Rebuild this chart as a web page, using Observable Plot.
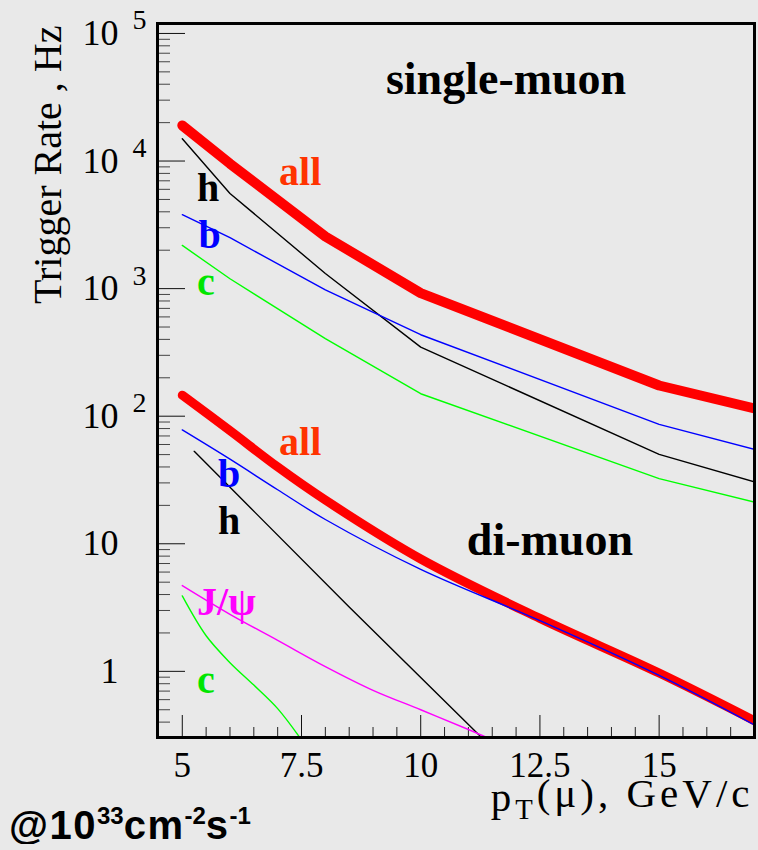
<!DOCTYPE html>
<html><head><meta charset="utf-8">
<script src="https://cdn.jsdelivr.net/npm/d3@7"></script>
<script src="https://cdn.jsdelivr.net/npm/@observablehq/plot@0.6"></script>
<style>
html,body{margin:0;padding:0;background:#e9e9e9;}
#chart{width:758px;}
#caption{font-family:"Liberation Sans",Arial,sans-serif;font-weight:bold;font-size:40px;line-height:38px;letter-spacing:1.5px;margin:-16px 0 0 9px;position:relative;white-space:nowrap;}
#caption sup{font-size:0.6em;position:relative;top:-0.62em;vertical-align:baseline;line-height:0;letter-spacing:0;}
</style></head><body>
<div id="chart"></div>
<div id="caption">@10<sup>33</sup>cm<sup>-2</sup>s<sup>-1</sup></div>
<script>
// ---- single-muon rates (Hz) vs pT (GeV/c)
const pt = [5, 6, 8, 10, 15, 17];
const singleAll = [19000, 9530, 2565, 922, 174, 115];
const singleH = [14960, 5570, 1315, 348, 50.2, 30.5];
const singleB = [3795, 2505, 977, 435, 86.3, 55];
const singleC = [2180, 1195, 405, 150, 32.4, 21.2];

// ---- di-muon rates (Hz)
const diPt = [5, 6, 7, 8, 10, 12.5, 15, 17];
const diAll = [146, 77, 40, 22, 7.6, 2.6, 0.97, 0.41];
const diB = [78, 46, 26.5, 15.5, 6.3, 2.5, 0.93, 0.38];
const diHPt = [5.25, 8.5, 11.25];
const diH = [53, 3.2, 0.31];
const diJpsiPt = [5, 6, 7, 8, 9, 10, 11, 11.5];
const diJpsi = [4.7, 2.8, 1.75, 1.09, 0.71, 0.50, 0.35, 0.29];
const diCPt = [5, 5.5, 6, 6.5, 7, 7.5];
const diC = [3.9, 1.9, 1.17, 0.78, 0.51, 0.29];

// ---- in-plot labels
const titleText = ["single-muon", "di-muon"];
const titleX = [11.79, 12.71];
const titleY = [33260, 8.11];
const labelText = ["all", "all", "h", "h", "b", "b", "c", "c", "J/ψ"];
const labelX = [7.03, 7.03, 5.31, 5.75, 5.34, 5.75, 5.31, 5.31, 5.31];
const labelY = [6440, 49.3, 4820, 11.85, 2065, 27.7, 885, 0.672, 2.75];
const labelColor = ["#ff3300", "#ff3300", "black", "black", "#0000ff", "#0000ff", "#00e600", "#00e600", "#ff00ff"];

// ---- axes
const yMajor = [1, 10, 100, 1000, 10000, 100000];
const yBase = ["1", "10", "10", "10", "10", "10"];
const yExp = ["", "", "2", "3", "4", "5"];
const yMinor = [0.4, 0.5, 0.6, 0.7, 0.8, 0.9].concat(
  ...[1, 10, 100, 1000, 10000].map(d => [2, 3, 4, 5, 6, 7, 8, 9].map(m => m * d)));
const xMajor = [5, 7.5, 10, 12.5, 15];
const xTickLabels = ["5", "7.5", "10", "12.5", "15"];
const xMinor = [5.5, 6, 6.5, 7, 8, 8.5, 9, 9.5, 10.5, 11, 11.5, 12, 13, 13.5, 14, 14.5, 15.5, 16, 16.5];
const xLabel = "pT(μ), GeV/c";
const yLabel = "Trigger Rate , Hz";

const RED = "#ff0000", BLUE = "#0000ff", GREEN = "#00ff00", MAG = "#ff00ff";
const thin = 1.4;
const SERIF = "Liberation Serif";

const plot = Plot.plot({
  width: 758, height: 822,
  marginLeft: 157, marginRight: 4, marginTop: 23, marginBottom: 85,
  style: {background: "#e9e9e9", fontFamily: SERIF, overflow: "visible"},
  x: {domain: [4.48, 17]},
  y: {type: "log", domain: [0.303, 119700]},
  marks: [
    Plot.axisY(yMinor, {anchor: "left", tickSize: -13, tickFormat: () => "", label: null, stroke: "#444"}),
    Plot.axisY(yMajor, {anchor: "left", tickSize: -28, tickFormat: () => "", label: null, stroke: "#111"}),
    Plot.axisX(xMinor, {anchor: "bottom", tickSize: -10, tickFormat: () => "", label: null, stroke: "#222"}),
    Plot.axisX(xMajor, {anchor: "bottom", tickSize: -22, tickFormat: () => "", label: null, stroke: "#111"}),

    // single-muon
    Plot.line(pt, {x: pt, y: singleAll, stroke: RED, strokeWidth: 10, clip: true}),
    Plot.line(pt, {x: pt, y: singleH, stroke: "black", strokeWidth: thin, clip: true}),
    Plot.line(pt, {x: pt, y: singleB, stroke: BLUE, strokeWidth: thin, clip: true}),
    Plot.line(pt, {x: pt, y: singleC, stroke: GREEN, strokeWidth: thin, clip: true}),

    // di-muon
    Plot.line(diPt, {x: diPt, y: diAll, stroke: RED, strokeWidth: 9, curve: "catmull-rom", clip: true}),
    Plot.line(diPt, {x: diPt, y: diB, stroke: BLUE, strokeWidth: thin, curve: "catmull-rom", clip: true}),
    Plot.line(diHPt, {x: diHPt, y: diH, stroke: "black", strokeWidth: thin, clip: true}),
    Plot.line(diJpsiPt, {x: diJpsiPt, y: diJpsi, stroke: MAG, strokeWidth: thin, curve: "catmull-rom", clip: true}),
    Plot.line(diCPt, {x: diCPt, y: diC, stroke: GREEN, strokeWidth: thin, curve: "catmull-rom", clip: true}),

    Plot.frame({stroke: "black", strokeWidth: 3}),

    // labels
    Plot.text(titleText, {x: titleX, y: titleY, text: titleText, textAnchor: "middle",
      fontSize: 46, fontWeight: "bold", fontFamily: SERIF, lineAnchor: "bottom"}),
    Plot.text(labelText, {x: labelX, y: labelY, text: labelText, fill: labelColor, textAnchor: "start",
      fontSize: 40, fontWeight: "bold", fontFamily: SERIF, lineAnchor: "bottom"}),

    // y tick labels
    Plot.text(yMajor, {y: d => d, text: (d, i) => yBase[i], frameAnchor: "left", textAnchor: "end", dx: -39, fontSize: 36, fontFamily: SERIF, lineAnchor: "middle"}),
    Plot.text(yMajor, {y: d => d, text: (d, i) => yExp[i], frameAnchor: "left", textAnchor: "start", dx: -25, dy: -13, fontSize: 28, fontFamily: SERIF, lineAnchor: "middle"}),
    // x tick labels
    Plot.text(xMajor, {x: d => d, text: (d, i) => xTickLabels[i], frameAnchor: "bottom", dy: 28, fontSize: 35, fontFamily: SERIF, lineAnchor: "middle"}),
    // axis titles
    Plot.text([xLabel], {text: d => d, frameAnchor: "bottom-right", textAnchor: "end", dx: -1, dy: 73, fontSize: 41, fontFamily: SERIF, lineAnchor: "bottom"}),
    Plot.text([yLabel], {text: d => d, frameAnchor: "top-left", textAnchor: "end", rotate: -90, dx: -97, dy: 2, fontSize: 40, fontFamily: SERIF, lineAnchor: "bottom"})
  ]
});

// subscript T in the x-axis title, spread like the original
plot.querySelectorAll("text").forEach(t => {
  if (t.textContent === xLabel) {
    const ns = "http://www.w3.org/2000/svg";
    t.textContent = "";
    t.setAttribute("letter-spacing", "4px");
    const a = document.createElementNS(ns, "tspan"); a.textContent = "p";
    const b = document.createElementNS(ns, "tspan"); b.textContent = "T"; b.setAttribute("font-size", "0.7em"); b.setAttribute("dy", "0.3em");
    const c = document.createElementNS(ns, "tspan"); c.textContent = "(μ), GeV/c"; c.setAttribute("dy", "-0.3em");
    t.append(a, b, c);
  }
});
document.getElementById("chart").appendChild(plot);
</script>
</body></html>
